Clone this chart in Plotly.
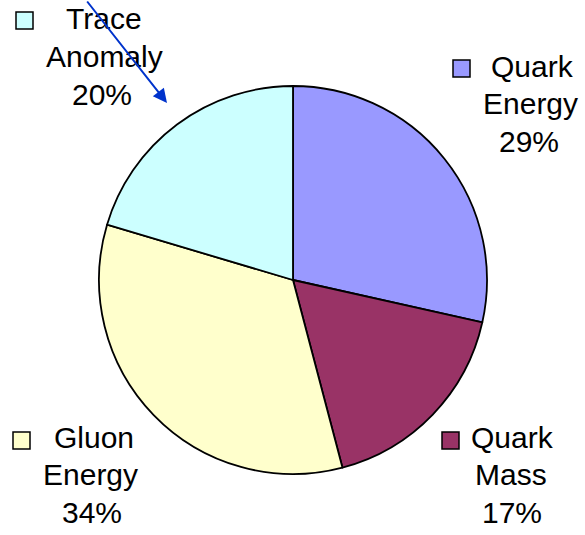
import plotly.graph_objects as go

# Data
categories = ["Quark Energy", "Quark Mass", "Gluon Energy", "Trace Anomaly"]
values = [28.5, 17.4, 33.7, 20.4]
pct_labels = ["29%", "17%", "34%", "20%"]
label_lines = [["Quark", "Energy"], ["Quark", "Mass"], ["Gluon", "Energy"], ["Trace", "Anomaly"]]
colors = ["#9999FF", "#993366", "#FFFFCC", "#CCFFFF"]

W, H = 585, 535

fig = go.Figure(go.Pie(
    labels=categories,
    values=values,
    sort=False,
    direction="clockwise",
    rotation=0,
    textinfo="none",
    hoverinfo="label+percent",
    marker=dict(colors=colors, line=dict(color="#000000", width=1.8)),
    domain=dict(x=[99 / W, 487 / W], y=[(H - 474) / H, (H - 86) / H]),
    showlegend=False,
))

# label layout (pixel positions, top-left origin): text center x, first baseline y, key square x/y
label_pos = [
    dict(cx=[532, 530, 529], base=77, key=(453, 60)),
    dict(cx=[512, 511, 512], base=448, key=(442, 432)),
    dict(cx=[94, 90, 92], base=448, key=(13, 432)),
    dict(cx=[104, 104, 102], base=30, key=(16, 12)),
]
line_gap = 37.5
font = dict(family="Liberation Sans, Arial, sans-serif", size=30, color="#000000")

annotations = []
shapes = []
for i, cat in enumerate(categories):
    lines = label_lines[i] + [pct_labels[i]]
    p = label_pos[i]
    for j, txt in enumerate(lines):
        by = p["base"] + j * line_gap
        cy = by - 11
        annotations.append(dict(
            x=p["cx"][j] / W, y=1 - cy / H, xref="paper", yref="paper",
            text=txt, showarrow=False, xanchor="center", yanchor="middle",
            font=font,
        ))
    kx, ky = p["key"]
    shapes.append(dict(
        type="rect", xref="paper", yref="paper",
        x0=kx / W, x1=(kx + 17) / W, y0=1 - (ky + 17) / H, y1=1 - ky / H,
        fillcolor=colors[i], line=dict(color="#000000", width=1.5),
    ))

# blue arrow pointing at Trace Anomaly slice
annotations.append(dict(
    x=167 / W, y=1 - 103 / H, xref="paper", yref="paper",
    ax=-81, ay=-106, axref="pixel", ayref="pixel",
    text="", showarrow=True, arrowhead=2, arrowsize=1.4, arrowwidth=2,
    arrowcolor="#0033CC",
))

fig.update_layout(
    width=W, height=H,
    margin=dict(l=0, r=0, t=0, b=0),
    paper_bgcolor="#FFFFFF",
    plot_bgcolor="#FFFFFF",
    annotations=annotations,
    shapes=shapes,
)

fig.write_html(
    "out.html",
    config={"displayModeBar": False},
    post_script="document.body.style.margin='0';document.body.style.overflow='hidden';",
)
